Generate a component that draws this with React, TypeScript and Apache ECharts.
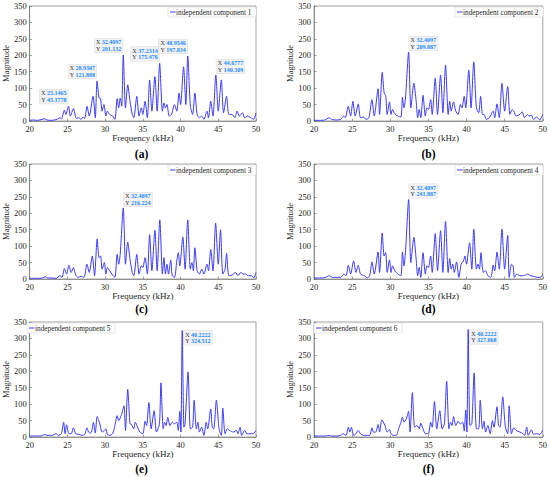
import React, { useEffect, useRef } from 'react';
import * as echarts from 'echarts';

// frequency (kHz), magnitude pairs
const comp1: [number, number][] = [
  [20, 2], [20.5, 3], [21, 2], [21.5, 4], [22, 7], [22.3, 3], [22.8, 2], [23.3, 3], [23.7, 6], [24, 10], [24.2, 6],
  [24.6, 33], [24.8, 20], [25.1465, 45.1778], [25.4, 15], [25.8, 38], [26.2, 8], [26.5, 10], [26.8, 5], [27.1, 12],
  [27.3, 8], [27.6, 45], [27.9, 15], [28.4, 75], [28.7, 10], [28.9307, 121.888], [29.2, 70], [29.4, 68], [29.6, 30],
  [29.85, 50], [30.1, 15], [30.3, 30], [30.6, 20], [31.0, 15], [31.3, 5], [31.6, 68], [31.8, 40], [32.0, 70],
  [32.2, 45], [32.4097, 201.132], [32.7, 40], [33.0, 110], [33.3, 60], [33.6, 20], [33.8, 10], [34.2, 75],
  [34.5, 15], [34.8, 40], [35.0, 20], [35.3, 60], [35.6, 10], [35.9, 125], [36.2, 30], [36.6, 135], [36.9, 30],
  [37.2314, 175.476], [37.6, 30], [37.8, 55], [38.0, 40], [38.2, 50], [38.5, 15], [38.8, 20], [39.2, 50],
  [39.5, 30], [39.8, 85], [40.0, 50], [40.4, 165], [40.7, 50], [40.9546, 197.834], [41.3, 45], [41.6, 20],
  [41.9, 85], [42.2, 20], [42.5, 10], [42.8, 15], [43.1, 5], [43.5, 30], [43.7, 10], [44.0, 60], [44.3, 15],
  [44.6777, 140.309], [45.0, 30], [45.4, 125], [45.7, 25], [46.1, 75], [46.4, 20], [46.8, 20], [47.2, 10],
  [47.5, 30], [47.8, 15], [48.2, 25], [48.5, 10], [48.9, 15], [49.3, 10], [49.7, 5], [50, 25],
];

const comp2: [number, number][] = [
  [20, 2], [20.7, 2], [21.4, 3], [21.7, 7], [22.0, 10], [22.3, 5], [23.0, 3], [23.5, 5], [23.9, 15], [24.1, 10],
  [24.5, 45], [24.8, 15], [25.1, 60], [25.4, 15], [25.8, 52], [26.1, 10], [26.5, 12], [26.8, 5], [27.2, 10],
  [27.6, 65], [27.9, 15], [28.4, 98], [28.6, 20], [28.95, 148], [29.2, 85], [29.4, 78], [29.6, 20], [29.9, 58],
  [30.1, 20], [30.3, 35], [30.6, 22], [31.0, 15], [31.4, 12], [31.6, 72], [31.8, 40], [32.0, 70],
  [32.4097, 209.887], [32.7, 40], [33.1, 115], [33.4, 60], [33.6, 10], [33.8, 35], [34.0, 10], [34.3, 78],
  [34.6, 15], [34.8, 40], [35.0, 35], [35.3, 65], [35.5, 20], [35.9, 130], [36.2, 20], [36.6, 140], [36.9, 25],
  [37.25, 170], [37.6, 20], [37.8, 60], [38.0, 30], [38.3, 58], [38.6, 30], [38.9, 20], [39.2, 50], [39.4, 40],
  [39.7, 75], [39.9, 40], [40.3, 155], [40.6, 40], [40.95, 180], [41.3, 40], [41.6, 25], [41.85, 75], [42.1, 20],
  [42.3, 20], [42.6, 5], [43.0, 10], [43.5, 30], [43.7, 10], [44.0, 52], [44.3, 10], [44.65, 115], [45.0, 30],
  [45.4, 105], [45.7, 20], [46.0, 35], [46.2, 30], [46.5, 15], [47.0, 20], [47.3, 28], [47.6, 10], [48.0, 20],
  [48.2, 15], [48.5, 18], [48.8, 5], [49.2, 12], [49.6, 3], [50, 20],
];

const comp3: [number, number][] = [
  [20, 2], [21, 2], [21.7, 3], [22.1, 7], [22.4, 3], [23.0, 3], [23.5, 2], [24.0, 10], [24.3, 5], [24.6, 32],
  [24.9, 15], [25.2, 42], [25.5, 20], [25.8, 35], [26.1, 12], [26.4, 5], [26.8, 8], [27.2, 5], [27.6, 45],
  [27.9, 20], [28.3, 70], [28.6, 10], [28.95, 122], [29.2, 65], [29.4, 70], [29.6, 30], [29.9, 50], [30.1, 15],
  [30.3, 35], [30.6, 25], [31.0, 12], [31.3, 5], [31.6, 75], [31.8, 45], [32.0, 75], [32.4097, 216.224],
  [32.7, 45], [33.0, 112], [33.3, 60], [33.6, 20], [33.8, 10], [34.2, 75], [34.5, 15], [34.8, 40], [35.0, 35],
  [35.3, 65], [35.6, 15], [35.9, 135], [36.2, 25], [36.6, 148], [36.9, 25], [37.25, 180], [37.6, 15], [37.8, 65],
  [38.0, 15], [38.2, 45], [38.4, 15], [38.7, 58], [38.9, 10], [39.2, 5], [39.5, 55], [39.7, 80], [39.9, 40],
  [40.3, 128], [40.6, 30], [40.95, 180], [41.3, 30], [41.5, 50], [41.7, 25], [41.9, 95], [42.2, 25], [42.5, 15],
  [42.8, 30], [43.1, 15], [43.5, 45], [43.7, 25], [44.0, 90], [44.3, 25], [44.65, 170], [45.0, 45], [45.3, 150],
  [45.6, 15], [45.9, 30], [46.1, 78], [46.4, 10], [46.8, 12], [47.3, 20], [47.6, 10], [48.0, 20], [48.3, 15],
  [48.6, 15], [49.0, 10], [49.4, 10], [49.7, 3], [50, 20],
];

const comp4: [number, number][] = [
  [20, 3], [21, 3], [21.5, 5], [22.0, 10], [22.4, 5], [23.0, 5], [23.5, 5], [23.9, 15], [24.2, 10], [24.5, 42],
  [24.8, 15], [25.2, 55], [25.5, 20], [25.8, 42], [26.1, 15], [26.6, 10], [27.0, 3], [27.3, 10], [27.6, 52],
  [27.9, 15], [28.4, 82], [28.6, 20], [28.95, 140], [29.2, 70], [29.4, 80], [29.6, 20], [29.9, 58], [30.1, 20],
  [30.3, 40], [30.6, 25], [31.0, 15], [31.4, 10], [31.6, 82], [31.8, 40], [32.0, 82], [32.4097, 241.887],
  [32.7, 50], [33.1, 127], [33.4, 60], [33.6, 10], [33.8, 35], [34.0, 5], [34.3, 80], [34.6, 15], [34.8, 40],
  [35.0, 35], [35.3, 70], [35.5, 20], [35.9, 138], [36.2, 25], [36.6, 147], [36.9, 20], [37.25, 175], [37.6, 20],
  [37.8, 62], [38.0, 30], [38.2, 45], [38.4, 20], [38.7, 52], [39.0, 5], [39.3, 45], [39.6, 55], [39.8, 70],
  [40.0, 45], [40.4, 110], [40.7, 30], [40.95, 152], [41.3, 30], [41.5, 45], [41.7, 30], [41.9, 80], [42.2, 20],
  [42.5, 25], [42.8, 10], [43.2, 5], [43.5, 42], [43.7, 25], [44.0, 82], [44.3, 30], [44.65, 152], [45.0, 30],
  [45.4, 133], [45.6, 5], [45.9, 45], [46.1, 40], [46.3, 5], [46.6, 15], [47.0, 10], [47.5, 10], [48.0, 15],
  [48.4, 10], [48.8, 8], [49.3, 5], [49.7, 5], [50, 15],
];

const comp5: [number, number][] = [
  [20, 3], [21, 3], [21.5, 3], [22.0, 8], [22.3, 5], [23.0, 5], [23.5, 10], [23.8, 5], [24.2, 10], [24.5, 45],
  [24.7, 10], [24.9, 37], [25.2, 10], [25.5, 10], [25.8, 28], [26.1, 10], [26.5, 8], [27.0, 5], [27.3, 8],
  [27.6, 28], [27.8, 15], [28.0, 12], [28.2, 15], [28.45, 45], [28.7, 12], [28.95, 62], [29.3, 40], [29.6, 15],
  [29.9, 20], [30.1, 25], [30.3, 8], [30.6, 5], [31.0, 10], [31.3, 35], [31.6, 65], [31.8, 50], [32.2, 70],
  [32.5, 95], [32.7, 20], [33.0, 145], [33.3, 40], [33.5, 38], [33.8, 25], [34.0, 45], [34.3, 30], [34.6, 15],
  [35.0, 10], [35.3, 48], [35.5, 35], [35.8, 105], [36.1, 25], [36.5, 80], [36.8, 15], [37.2, 40], [37.4, 165],
  [37.7, 25], [37.9, 45], [38.1, 35], [38.3, 60], [38.6, 35], [38.9, 45], [39.2, 40], [39.5, 45], [39.7, 20],
  [39.9, 78], [40.05, 15], [40.2222, 324.512], [40.45, 30], [40.6, 40], [41.0, 198], [41.3, 25], [41.6, 30],
  [41.8, 112], [42.1, 25], [42.3, 45], [42.5, 15], [42.8, 30], [43.1, 5], [43.4, 45], [43.6, 25], [44.0, 85],
  [44.2, 30], [44.4, 25], [44.75, 112], [45.1, 25], [45.4, 5], [45.6, 88], [45.9, 10], [46.2, 25], [46.5, 20],
  [47.0, 15], [47.4, 20], [47.6, 10], [47.9, 30], [48.1, 5], [48.5, 20], [48.8, 10], [49.2, 10], [49.6, 10],
  [50, 20],
];

const comp6: [number, number][] = [
  [20, 3], [21, 3], [21.5, 3], [22.0, 5], [22.3, 3], [23.0, 3], [23.5, 5], [23.8, 10], [24.2, 5], [24.5, 30],
  [24.7, 15], [24.9, 30], [25.2, 5], [25.5, 10], [25.8, 20], [26.1, 10], [26.5, 5], [27.0, 5], [27.3, 5],
  [27.6, 28], [27.8, 15], [28.1, 15], [28.4, 38], [28.6, 15], [28.9, 52], [29.3, 35], [29.6, 15], [29.9, 22],
  [30.1, 10], [30.4, 5], [30.8, 5], [31.1, 25], [31.4, 45], [31.6, 60], [31.8, 45], [32.1, 55], [32.4, 78],
  [32.6, 15], [32.9, 135], [33.2, 30], [33.5, 35], [33.8, 25], [34.0, 42], [34.3, 25], [34.6, 10], [35.0, 10],
  [35.3, 45], [35.5, 30], [35.8, 108], [36.1, 25], [36.5, 80], [36.8, 25], [37.1, 40], [37.4, 170], [37.7, 25],
  [37.9, 45], [38.1, 35], [38.3, 62], [38.6, 35], [38.9, 48], [39.2, 40], [39.5, 45], [39.7, 18], [39.9, 82],
  [40.05, 15], [40.2222, 327.068], [40.45, 35], [40.7, 40], [41.0, 195], [41.3, 25], [41.6, 25], [41.8, 112],
  [42.1, 25], [42.3, 48], [42.5, 15], [42.8, 35], [43.1, 10], [43.4, 50], [43.6, 30], [44.0, 92], [44.2, 35],
  [44.4, 30], [44.75, 122], [45.1, 30], [45.4, 10], [45.6, 95], [45.9, 10], [46.2, 28], [46.5, 20], [47.0, 15],
  [47.4, 10], [47.6, 5], [47.9, 30], [48.1, 5], [48.5, 22], [48.8, 8], [49.2, 10], [49.6, 8], [50, 20],
];

const components = [comp1, comp2, comp3, comp4, comp5, comp6];
const seriesNames = [
  'independent component 1', 'independent component 2', 'independent component 3',
  'independent component 4', 'independent component 5', 'independent component 6',
];
const panelLabels = ['(a)', '(b)', '(c)', '(d)', '(e)', '(f)'];
const xTicks = { min: 20, max: 50, interval: 5 };
const yTicks = { min: 0, max: 350, interval: 50 };

// data tips: [panel, x, y, anchor corner]
const dataTips: [number, number, number, string][] = [
  [0, 25.1465, 45.1778, 'br'], [0, 28.9307, 121.888, 'br'], [0, 32.4097, 201.132, 'br'],
  [0, 37.2314, 175.476, 'br'], [0, 40.9546, 197.834, 'br'], [0, 44.6777, 140.309, 'bl'],
  [1, 32.4097, 209.887, 'bl'], [2, 32.4097, 216.224, 'bl'], [3, 32.4097, 241.887, 'bl'],
  [4, 40.2222, 324.512, 'tl'], [5, 40.2222, 327.068, 'tl'],
];

const FONT = '"Liberation Serif", "Times New Roman", serif';
const LINE_COLOR = '#3a3aff';

export default function App() {
  const ref = useRef<HTMLDivElement>(null);
  useEffect(() => {
    const chart = echarts.init(ref.current!, null, { renderer: 'svg' });
    const lefts = [27, 314];
    const tops = [6, 164, 322];
    const W = 229;
    const H = 115;
    const grids: any[] = [];
    const xAxes: any[] = [];
    const yAxes: any[] = [];
    const series: any[] = [];
    const graphics: any[] = [];
    components.forEach((data, i) => {
      const col = i % 2;
      const row = Math.floor(i / 2);
      const left = lefts[col];
      const top = tops[row];
      grids.push({ left, top, width: W, height: H, show: true, borderColor: '#666', borderWidth: 0.6, containLabel: false });
      xAxes.push({
        type: 'value', gridIndex: i, min: xTicks.min, max: xTicks.max, interval: xTicks.interval,
        name: 'Frequency (kHz)', nameLocation: 'middle', nameGap: 10,
        nameTextStyle: { fontFamily: FONT, fontSize: 9, color: '#262626' },
        axisLine: { show: true, lineStyle: { color: '#666', width: 0.6 } },
        axisTick: { show: true, inside: true, length: 2.5, lineStyle: { color: '#666', width: 0.6 } },
        axisLabel: { fontFamily: FONT, fontSize: 8.5, color: '#262626', margin: 3 },
        splitLine: { show: false },
      });
      yAxes.push({
        type: 'value', gridIndex: i, min: yTicks.min, max: yTicks.max, interval: yTicks.interval,
        name: 'Magnitude', nameLocation: 'middle', nameGap: 15,
        nameTextStyle: { fontFamily: FONT, fontSize: 8.5, color: '#262626' },
        axisLine: { show: true, lineStyle: { color: '#666', width: 0.6 } },
        axisTick: { show: true, inside: true, length: 2.5, lineStyle: { color: '#666', width: 0.6 } },
        axisLabel: { fontFamily: FONT, fontSize: 8.5, color: '#262626', margin: 3 },
        splitLine: { show: false },
      });
      const tips = dataTips.filter((t) => t[0] === i).map((t) => {
        const [, x, y, anchor] = t;
        const align = anchor[1] === 'r' ? 'right' : 'left';
        const verticalAlign = anchor[0] === 'b' ? 'bottom' : 'top';
        const offset = anchor === 'br' ? [0, -2] : anchor === 'bl' ? [1, -1] : [2, 1];
        return {
          coord: [x, y],
          label: {
            show: true,
            position: [0, 0],
            offset,
            align,
            verticalAlign,
            fontFamily: FONT,
            fontSize: 6,
            lineHeight: 6.5,
            formatter: `{k|X} {v|${x}}\n{k|Y} {v|${y}}`,
            backgroundColor: 'rgba(240,240,240,0.95)',
            borderColor: '#dedede',
            borderWidth: 0.5,
            padding: [0.5, 1.5, 0.5, 1.5],
            rich: {
              k: { fontFamily: FONT, fontSize: 6, color: '#333', lineHeight: 6.5 },
              v: { fontFamily: FONT, fontSize: 6, color: '#1a8cff', fontWeight: 'bold', lineHeight: 6.5 },
            },
          },
        };
      });
      series.push({
        type: 'line', name: seriesNames[i], xAxisIndex: i, yAxisIndex: i, data,
        showSymbol: false, symbol: 'none', smooth: 0.25,
        lineStyle: { color: LINE_COLOR, width: 1 },
        itemStyle: { color: LINE_COLOR },
        markPoint: tips.length
          ? { symbol: 'rect', symbolSize: 1, itemStyle: { color: 'rgba(0,0,0,0)' }, data: tips, animation: false }
          : undefined,
      });
      // legend box drawn as graphics (MATLAB style: short line sample right before the text)
      const boxW = 88;
      const boxH = 10;
      const L = row === 2 ? left : left + W - boxW;
      const T = top + 1;
      graphics.push({
        type: 'rect', shape: { x: L, y: T, width: boxW, height: boxH },
        style: { fill: '#fff', stroke: '#cfcfcf', lineWidth: 0.5 }, z: 10,
      });
      graphics.push({
        type: 'line', shape: { x1: L + 2, y1: T + boxH / 2, x2: L + 7.5, y2: T + boxH / 2 },
        style: { stroke: LINE_COLOR, lineWidth: 1 }, z: 11,
      });
      graphics.push({
        type: 'text', x: L + 8, y: T + boxH / 2 + 0.3, z: 11,
        style: { text: seriesNames[i], fontFamily: FONT, fontSize: 7.3, fill: '#262626', align: 'left', verticalAlign: 'middle' },
      });
      const labelY = [154, 309, 469][row];
      graphics.push({
        type: 'text', x: left + W / 2, y: labelY,
        style: { text: panelLabels[i], fontFamily: FONT, fontSize: 11.5, fontWeight: 'bold', fill: '#000', align: 'center', verticalAlign: 'middle' },
      });
    });
    chart.setOption({
      animation: false,
      backgroundColor: '#fff',
      grid: grids,
      xAxis: xAxes,
      yAxis: yAxes,
      series,
      graphic: graphics,
    });
    return () => chart.dispose();
  }, []);
  return <div ref={ref} style={{ position: 'fixed', left: 0, top: 0, width: 550, height: 477, background: '#fff' }} />;
}
